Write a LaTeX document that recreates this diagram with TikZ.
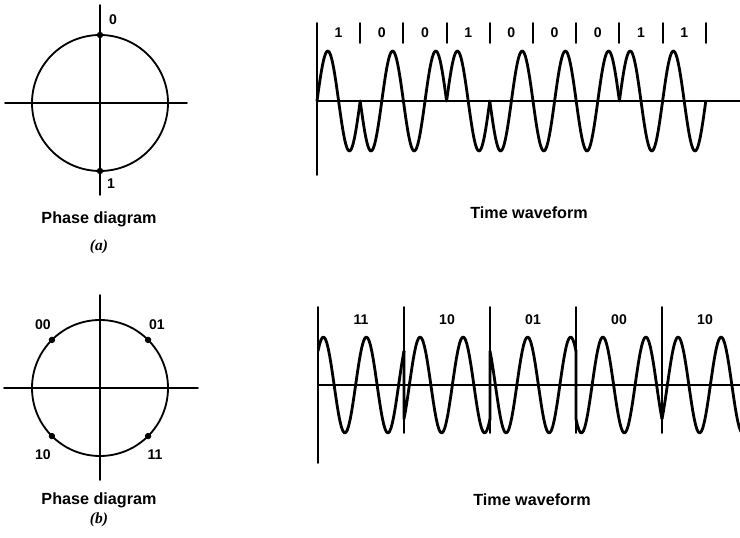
\documentclass[tikz,border=0pt]{standalone}
\usepackage{fontspec}
\setsansfont{Liberation Sans}
\newfontfamily\capfont{Liberation Serif}
\renewcommand{\familydefault}{\sfdefault}
\begin{document}
\begin{tikzpicture}[line cap=round, line join=round,
    axisline/.style={line width=1.3pt},
    wave/.style={line width=2pt},
    lbl/.style={font=\bfseries\fontsize{10}{12}\selectfont, inner sep=0pt},
    captxt/.style={font=\bfseries\fontsize{11.5}{13}\selectfont, anchor=base, inner sep=0pt},
    subtag/.style={font=\capfont\bfseries\itshape\fontsize{11}{13}\selectfont, inner sep=0pt}]
  \useasboundingbox (0,0) rectangle (18.5,13.45);

  % (a) two-phase diagram
  \begin{scope}[shift={(2.5,10.875)}]
    \draw[axisline] (-2.375,0) -- (2.175,0);
    \draw[axisline] (0,-2.3) -- (0,2.45);
    \draw[axisline] (0,0) circle (1.7);
    \fill (0,1.7) circle (0.08);
    \fill (0,-1.7) circle (0.08);
    \node[lbl] (phA0) at (0.325,2.075) {0};
    \node[lbl] (phA1) at (0.275,-2.025) {1};
  \end{scope}
  \node[captxt] (capA) at (2.475,7.85) {Phase diagram};
  \node[subtag] (subA) at (2.475,7.275) {(a)};

  % (a) time waveform, one cycle per bit
  \begin{scope}[shift={(7.925,10.925)}]
    \draw[axisline] (0,-1.85) -- (0,1.95);
    \draw[axisline] (0,0) -- (10.575,0);
    \foreach \b [count=\k from 0] in {1,0,0,1,0,0,0,1,1} {
      \draw[axisline] ({1.08*(\k+1)},1.45) -- ++(0,0.5);
      \node[lbl] (bit\k) at ({1.08*\k+0.54},1.7) {\b};
      \draw[wave] plot[domain=0:1.08, samples=40] ({1.08*\k+\x},{(2*\b-1)*1.25*sin(360*\x/1.08)});
    }
  \end{scope}
  \node[captxt] (capWA) at (13.225,7.975) {Time waveform};

  % (b) four-phase diagram
  \begin{scope}[shift={(2.5,3.75)}]
    \draw[axisline] (-2.4,0) -- (2.45,0);
    \draw[axisline] (0,-2.3) -- (0,2.325);
    \draw[axisline] (0,0) circle (1.7);
    \foreach \a in {45,135,-135,-45}
      \fill (\a:1.7) circle (0.08);
    \node[lbl] (phB00) at (-1.425,1.575) {00};
    \node[lbl] (phB01) at (1.425,1.575) {01};
    \node[lbl] (phB10) at (-1.425,-1.675) {10};
    \node[lbl] (phB11) at (1.375,-1.675) {11};
  \end{scope}
  \node[captxt] (capB) at (2.475,0.825) {Phase diagram};
  \node[subtag] (subB) at (2.475,0.45) {(b)};

  % (b) time waveform, two cycles per symbol
  \begin{scope}[shift={(7.95,3.825)}]
    \draw[axisline] (0,-1.95) -- (0,1.95);
    \draw[axisline] (0,0) -- (10.55,0);
    \foreach \k in {1,...,4}
      \draw[axisline] ({2.15*\k},-1.2) -- ({2.15*\k},1.95);
    \foreach \s [count=\k from 0] in {11,10,01,00,10}
      \node[lbl] (sym\k) at ({2.15*\k+1.075},1.625) {\s};
    \clip (0,-2) rectangle (10.55,2);
    \foreach \ph [count=\k from 0, remember=\ph as \pv (initially -45)] in {-45,-135,45,135,-135}
      \draw[wave] ({2.15*\k},{1.2*cos(\pv)}) -- plot[domain=0:2.15, samples=60] ({2.15*\k+\x},{1.2*cos(720*\x/2.15+\ph)});
  \end{scope}
  \node[captxt] (capWB) at (13.3,0.8) {Time waveform};
\end{tikzpicture}
\end{document}
